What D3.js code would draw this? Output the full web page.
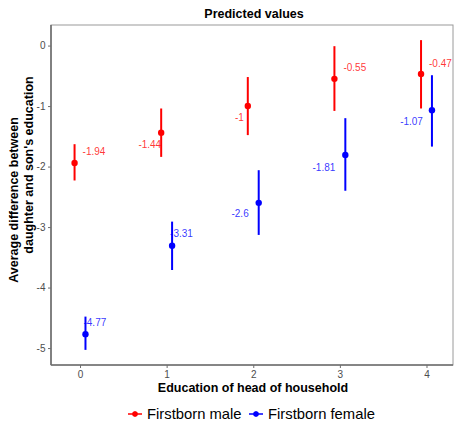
<!DOCTYPE html>
<html>
<head>
<meta charset="utf-8">
<script src="https://cdn.jsdelivr.net/npm/d3@7"></script>
<style>
  html, body { margin: 0; padding: 0; background: #fff; }
  svg { display: block; font-family: "Liberation Sans", Arial, Helvetica, sans-serif; }
</style>
</head>
<body>
<svg id="chart" width="455" height="422"></svg>
<script>
// Education level of the household head (x axis categories)
const education = [0, 1, 2, 3, 4];
const xTicks = [0, 1, 2, 3, 4];
const yTicks = [0, -1, -2, -3, -4, -5];

// Predicted values with confidence intervals
const maleFit   = [-1.94, -1.44, -1.00, -0.55, -0.47];
const maleLow   = [-2.23, -1.84, -1.48, -1.08, -1.04];
const maleHigh  = [-1.63, -1.04, -0.52, -0.01,  0.09];

const femaleFit  = [-4.77, -3.31, -2.60, -1.81, -1.07];
const femaleLow  = [-5.03, -3.71, -3.13, -2.40, -1.67];
const femaleHigh = [-4.48, -2.91, -2.06, -1.20, -0.49];

const seriesNames = ["Firstborn male", "Firstborn female"];

// plain hyphen-minus for negative numbers
const fmt = v => String(v);

const series = [
  { name: seriesNames[0], color: "#ff0000", fit: maleFit, low: maleLow, high: maleHigh, dodge: -0.063,
    // label nudges (px) relative to each point
    lab: [[8, -12, "start"], [0, 12, "end"], [-4, 11, "end"], [9, -11, "start"], [8, -11, "start"]] },
  { name: seriesNames[1], color: "#0000ff", fit: femaleFit, low: femaleLow, high: femaleHigh, dodge: 0.063,
    lab: [[-2, -12, "start"], [-2, -12, "start"], [-10, 11, "end"], [-10, 12, "end"], [-9, 11.5, "end"]] }
];

const svg = d3.select("#chart");
const panel = { left: 51, right: 453, top: 25, bottom: 365 };

const x = d3.scaleLinear().domain([-0.335, 4.306]).range([panel.left, panel.right]);
const y = d3.scaleLinear().domain([0.34, -5.28]).range([panel.top, panel.bottom]);

// panel frame
svg.append("rect")
  .attr("x", panel.left).attr("y", panel.top)
  .attr("width", panel.right - panel.left).attr("height", panel.bottom - panel.top)
  .attr("fill", "#fff").attr("stroke", "#9a9a9a").attr("stroke-width", 1);

// axes
const xAxis = svg.append("g")
  .attr("transform", `translate(0,${panel.bottom})`)
  .call(d3.axisBottom(x).tickValues(xTicks).tickFormat(fmt).tickSizeOuter(0).tickSize(3).tickPadding(3));
const yAxis = svg.append("g")
  .attr("transform", `translate(${panel.left},0)`)
  .call(d3.axisLeft(y).tickValues(yTicks).tickFormat(fmt).tickSizeOuter(0).tickSize(3).tickPadding(2.5));

[xAxis, yAxis].forEach(g => {
  g.select(".domain").attr("stroke", "#6e6e6e").attr("stroke-width", 1.6);
  g.selectAll(".tick line").attr("stroke", "#6e6e6e").attr("stroke-width", 1);
  g.selectAll(".tick text").attr("fill", "#4d4d4d").attr("font-size", 10)
    .attr("font-family", "'Liberation Sans', Arial, sans-serif");
});
xAxis.select(".domain").attr("d", `M${panel.left},0H${panel.right}`);
yAxis.select(".domain").attr("d", `M0,${panel.top}V${panel.bottom}`);

// error bars, points and value labels
series.forEach(s => {
  const g = svg.append("g");
  const rows = education.map((e, i) => ({ e, fit: s.fit[i], low: s.low[i], high: s.high[i], lab: s.lab[i] }));

  g.selectAll("line.bar").data(rows).join("line")
    .attr("x1", d => x(d.e + s.dodge)).attr("x2", d => x(d.e + s.dodge))
    .attr("y1", d => y(d.low)).attr("y2", d => y(d.high))
    .attr("stroke", s.color).attr("stroke-width", 2);

  g.selectAll("circle").data(rows).join("circle")
    .attr("cx", d => x(d.e + s.dodge)).attr("cy", d => y(d.fit))
    .attr("r", 3.2).attr("fill", s.color);

  g.selectAll("text").data(rows).join("text")
    .attr("x", d => x(d.e + s.dodge) + d.lab[0])
    .attr("y", d => y(d.fit) + d.lab[1] + 3.6)
    .attr("text-anchor", d => d.lab[2])
    .attr("font-size", 10)
    .attr("fill", s.color)
    .attr("fill-opacity", 0.8)
    .text(d => fmt(d.fit));
});

// titles
svg.append("text")
  .attr("x", 254).attr("y", 17.5).attr("text-anchor", "middle")
  .attr("font-size", 12.5).attr("font-weight", "bold").attr("fill", "#000")
  .text("Predicted values");

svg.append("text")
  .attr("x", 253).attr("y", 391.5).attr("text-anchor", "middle")
  .attr("font-size", 12.5).attr("font-weight", "bold").attr("fill", "#000")
  .text("Education of head of household");

svg.append("text")
  .attr("transform", "translate(18,200) rotate(-90)").attr("text-anchor", "middle")
  .attr("font-size", 12.5).attr("font-weight", "bold").attr("fill", "#000")
  .text("Average difference between");
svg.append("text")
  .attr("transform", "translate(32.5,165) rotate(-90)").attr("text-anchor", "middle")
  .attr("font-size", 12.5).attr("font-weight", "bold").attr("fill", "#000")
  .text("daughter and son's education");

// legend
const legendX = [135, 256];
series.forEach((s, i) => {
  const lg = svg.append("g").attr("transform", `translate(${legendX[i]},414)`);
  lg.append("line").attr("x1", -7).attr("x2", 7).attr("y1", 0).attr("y2", 0)
    .attr("stroke", s.color).attr("stroke-width", 1.5);
  lg.append("line").attr("x1", 0).attr("x2", 0).attr("y1", -2.5).attr("y2", 2.5)
    .attr("stroke", s.color).attr("stroke-width", 1.5);
  lg.append("circle").attr("r", 2.8).attr("fill", s.color);
  lg.append("text").attr("x", 12).attr("y", 5.3)
    .attr("font-size", 14.8).attr("fill", "#000").text(s.name);
});
</script>
</body>
</html>
